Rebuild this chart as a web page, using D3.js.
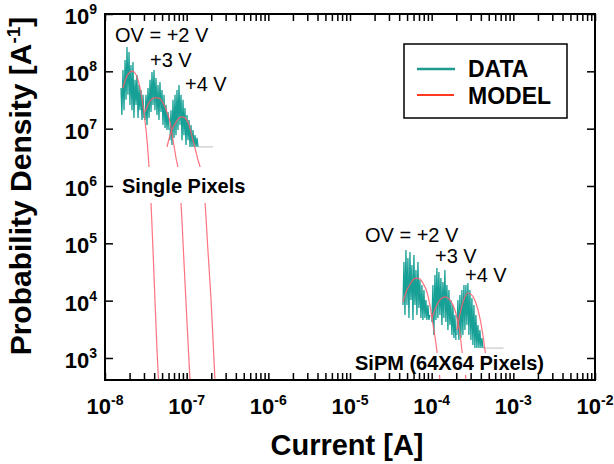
<!DOCTYPE html>
<meta charset="utf-8">
<script src="https://cdn.jsdelivr.net/npm/d3@7"></script>
<style>
  body { margin: 0; background: #fff; }
  text { font-family: "Liberation Sans", Arial, sans-serif; }
</style>

<div id="wrapper"></div>

<script>
  // ---- tick labels (exponents of ten) ----
  const xTickExp = [-8, -7, -6, -5, -4, -3, -2];
  const yTickExp = [3, 4, 5, 6, 7, 8, 9];
  const xDomain = [1e-8, 1e-2];
  const yDomain = [4.13e2, 1e9];

  // ---- single pixels, measured histograms [current A, density A^-1] ----
  const spData2V = [
    [1.57e-8, 5.1e7], [1.61e-8, 1.73e7], [1.66e-8, 1.05e8], [1.71e-8, 2.1e7], [1.76e-8, 1.58e8],
    [1.81e-8, 3.2e7], [1.86e-8, 2.65e8], [1.91e-8, 3.9e7], [1.97e-8, 2.17e8], [2.02e-8, 2.6e7],
    [2.08e-8, 1.29e8], [2.14e-8, 2.1e7], [2.20e-8, 1.46e8], [2.26e-8, 1.53e7], [2.33e-8, 7.1e7],
    [2.40e-8, 2.6e7], [2.46e-8, 8.6e7], [2.54e-8, 1.53e7], [2.61e-8, 5.8e7], [2.68e-8, 2.1e7],
    [2.76e-8, 4.7e7], [2.84e-8, 1.42e7], [2.92e-8, 3.9e7], [3.00e-8, 1.53e7]
  ];
  const spData3V = [
    [3.09e-8, 1.42e7], [3.18e-8, 3.9e7], [3.27e-8, 1.16e7], [3.36e-8, 5.1e7], [3.46e-8, 1.53e7],
    [3.56e-8, 7.1e7], [3.66e-8, 1.95e7], [3.76e-8, 9.7e7], [3.87e-8, 2.6e7], [3.98e-8, 1.05e8],
    [4.09e-8, 2.1e7], [4.21e-8, 7.65e7], [4.33e-8, 1.73e7], [4.46e-8, 5.8e7], [4.58e-8, 1.42e7],
    [4.71e-8, 6.5e7], [4.85e-8, 1.95e7], [4.99e-8, 4.7e7], [5.13e-8, 1.16e7], [5.28e-8, 3.9e7],
    [5.43e-8, 1.03e7], [5.58e-8, 2.6e7], [5.74e-8, 9.5e6], [5.91e-8, 1.95e7], [6.08e-8, 9.5e6]
  ];
  const spData4V = [
    [6.25e-8, 6.3e6], [6.43e-8, 2.1e7], [6.61e-8, 5.2e6], [6.80e-8, 3.2e7], [7.00e-8, 6.9e6],
    [7.20e-8, 3.9e7], [7.40e-8, 7.7e6], [7.61e-8, 4.7e7], [7.83e-8, 9.5e6], [8.05e-8, 5.8e7],
    [8.28e-8, 1.16e7], [8.52e-8, 3.9e7], [8.77e-8, 6.3e6], [9.02e-8, 3.2e7], [9.27e-8, 7.7e6],
    [9.54e-8, 2.29e7], [9.81e-8, 5.2e6], [1.009e-7, 1.73e7], [1.038e-7, 6.3e6], [1.068e-7, 1.42e7],
    [1.098e-7, 4.8e6], [1.130e-7, 1.16e7], [1.162e-7, 4.8e6], [1.195e-7, 9.5e6], [1.230e-7, 4.8e6],
    [1.265e-7, 7.7e6], [1.301e-7, 4.8e6], [1.338e-7, 6.9e6], [1.376e-7, 4.8e6]
  ];
  const spTail = [[1.376e-7, 4.8e6], [2.10e-7, 4.8e6]];

  // ---- single pixels, model curves ----
  const spModel2V = [
    [1.66e-8, 5.1e7], [1.81e-8, 7.65e7], [1.97e-8, 9.35e7], [2.14e-8, 1.01e8], [2.33e-8, 9.35e7],
    [2.54e-8, 7.1e7], [2.76e-8, 4.19e7], [3.00e-8, 1.88e7], [3.27e-8, 6.3e6], [3.46e-8, 2.14e6],
    [3.66e-8, 5.05e5], [3.87e-8, 7.66e4], [4.09e-8, 1.03e4], [4.33e-8, 1.38e3], [4.65e-8, 1.85e2]
  ];
  const spModel3V = [
    [3.09e-8, 1.95e7], [3.36e-8, 2.6e7], [3.66e-8, 3.2e7], [4.09e-8, 3.43e7], [4.46e-8, 3.43e7],
    [4.85e-8, 3.2e7], [5.28e-8, 2.6e7], [5.74e-8, 1.95e7], [6.25e-8, 1.31e7], [6.61e-8, 8.07e6],
    [7.00e-8, 4.99e6], [7.40e-8, 3.08e6], [7.83e-8, 2.06e6], [8.52e-8, 5.05e5], [9.27e-8, 4.72e4],
    [1.009e-7, 4.25e3], [1.098e-7, 4.13e2], [1.13e-7, 1.85e2]
  ];
  const spModel4V = [
    [5.74e-8, 4.79e6], [6.43e-8, 8.75e6], [7.20e-8, 1.21e7], [8.05e-8, 1.53e7], [8.77e-8, 1.60e7],
    [9.54e-8, 1.53e7], [1.068e-7, 1.16e7], [1.195e-7, 6.3e6], [1.301e-7, 3.92e6], [1.376e-7, 2.84e6],
    [1.46e-7, 2.14e6], [1.68e-7, 5.05e5], [1.82e-7, 7.66e4], [1.99e-7, 1.03e4], [2.22e-7, 4.13e2],
    [2.29e-7, 1.85e2]
  ];

  // ---- SiPM (64x64), measured histograms ----
  const arrData2V = [
    [4.45e-5, 8.39e3], [4.58e-5, 4.72e4], [4.71e-5, 5.62e3], [4.84e-5, 7.66e4], [4.98e-5, 8.39e3],
    [5.12e-5, 5.55e4], [5.27e-5, 4.98e3], [5.42e-5, 7.06e4], [5.57e-5, 1.03e4], [5.73e-5, 4.19e4],
    [5.90e-5, 4.60e3], [6.06e-5, 6.26e4], [6.24e-5, 8.39e3], [6.42e-5, 3.43e4], [6.60e-5, 5.62e3],
    [6.79e-5, 4.72e4], [6.98e-5, 7.44e3], [7.18e-5, 2.29e4], [7.39e-5, 4.98e3], [7.60e-5, 1.88e4],
    [7.81e-5, 4.60e3], [8.04e-5, 1.53e4], [8.27e-5, 4.98e3], [8.50e-5, 1.03e4], [8.75e-5, 4.60e3],
    [9.00e-5, 8.39e3], [9.25e-5, 4.60e3], [9.52e-5, 5.62e3]
  ];
  const arrData3V = [
    [1.007e-4, 4.24e3], [1.036e-4, 1.88e4], [1.065e-4, 2.52e3], [1.096e-4, 2.80e4], [1.127e-4, 4.60e3],
    [1.159e-4, 3.71e4], [1.192e-4, 4.98e3], [1.226e-4, 3.16e4], [1.262e-4, 5.62e3], [1.298e-4, 2.48e4],
    [1.335e-4, 3.76e3], [1.373e-4, 2.11e4], [1.412e-4, 4.98e3], [1.452e-4, 3.43e4], [1.494e-4, 4.24e3],
    [1.537e-4, 1.88e4], [1.581e-4, 3.08e3], [1.626e-4, 1.53e4], [1.672e-4, 3.76e3], [1.720e-4, 1.03e4],
    [1.769e-4, 2.52e3], [1.820e-4, 8.39e3], [1.872e-4, 2.23e3], [1.926e-4, 5.62e3], [1.981e-4, 2.06e3]
  ];
  const arrData4V = [
    [2.037e-4, 2.52e3], [2.096e-4, 1.03e4], [2.156e-4, 2.06e3], [2.217e-4, 1.25e4], [2.281e-4, 2.23e3],
    [2.346e-4, 1.53e4], [2.413e-4, 2.52e3], [2.482e-4, 1.88e4], [2.553e-4, 3.08e3], [2.626e-4, 1.88e4],
    [2.701e-4, 3.76e3], [2.778e-4, 2.03e4], [2.858e-4, 2.52e3], [2.939e-4, 1.53e4], [3.023e-4, 2.06e3],
    [3.110e-4, 1.11e4], [3.199e-4, 1.68e3], [3.290e-4, 8.39e3], [3.385e-4, 1.49e3], [3.481e-4, 5.62e3],
    [3.581e-4, 1.49e3], [3.683e-4, 3.76e3], [3.789e-4, 1.49e3], [3.897e-4, 3.08e3], [4.009e-4, 1.49e3],
    [4.123e-4, 2.23e3], [4.241e-4, 1.49e3]
  ];
  const arrTail = [[4.241e-4, 1.49e3], [7.6e-4, 1.49e3]];

  // ---- SiPM (64x64), model curves ----
  const arrModel2V = [
    [4.45e-5, 9.46e3], [4.98e-5, 1.53e4], [5.57e-5, 2.03e4], [6.06e-5, 2.39e4], [6.60e-5, 2.48e4],
    [7.18e-5, 2.39e4], [7.81e-5, 2.03e4], [8.75e-5, 1.42e4], [9.52e-5, 8.39e3], [1.007e-4, 4.98e3],
    [1.065e-4, 3.08e3], [1.127e-4, 1.82e3], [1.192e-4, 9.2e2], [1.262e-4, 4.13e2], [1.298e-4, 1.85e2]
  ];
  const arrModel3V = [
    [1.007e-4, 4.98e3], [1.127e-4, 7.75e3], [1.262e-4, 1.03e4], [1.452e-4, 1.16e4], [1.672e-4, 1.03e4],
    [1.926e-4, 6.87e3], [2.096e-4, 4.24e3], [2.217e-4, 2.73e3], [2.346e-4, 1.38e3], [2.482e-4, 7.55e2],
    [2.626e-4, 4.13e2], [2.701e-4, 1.85e2]
  ];
  const arrModel4V = [
    [2.037e-4, 3.08e3], [2.281e-4, 6.87e3], [2.553e-4, 1.16e4], [2.778e-4, 1.36e4], [3.110e-4, 1.25e4],
    [3.481e-4, 9.1e3], [3.897e-4, 4.98e3], [4.241e-4, 2.52e3], [4.487e-4, 1.38e3], [4.884e-4, 6.69e2],
    [5.17e-4, 4.13e2], [5.32e-4, 1.85e2]
  ];

  const teal = "#17a096";
  const red = "#ff5a6a";

  // Margin and size
  const margin = { top: 14, right: 19, bottom: 84, left: 105 },
    width = 614 - margin.left - margin.right,
    height = 464 - margin.top - margin.bottom;

  const svg = d3.select("#wrapper")
    .append("svg")
    .attr("width", 614)
    .attr("height", 464)
    .append("g")
    .attr("transform", `translate(${margin.left},${margin.top})`);

  const x = d3.scaleLog().domain(xDomain).range([0, width]);
  const y = d3.scaleLog().domain(yDomain).range([height, 0]);

  svg.append("clipPath").attr("id", "clip")
    .append("rect").attr("width", width).attr("height", height);

  const line = d3.line().x(d => x(d[0])).y(d => y(d[1]));
  const plot = svg.append("g").attr("clip-path", "url(#clip)");

  // grey tails of the histograms
  plot.selectAll(".tail")
    .data([spTail, arrTail])
    .join("path")
    .attr("d", line)
    .attr("fill", "none")
    .attr("stroke", "#c8c8c8")
    .attr("stroke-width", 1.2);

  // measured data
  plot.selectAll(".data")
    .data([spData2V, spData3V, spData4V, arrData2V, arrData3V, arrData4V])
    .join("path")
    .attr("class", "data")
    .attr("d", line)
    .attr("fill", "none")
    .attr("stroke", teal)
    .attr("stroke-width", 1.3);

  // model curves
  plot.selectAll(".model")
    .data([spModel2V, spModel3V, spModel4V, arrModel2V, arrModel3V, arrModel4V])
    .join("path")
    .attr("class", "model")
    .attr("d", d3.line().curve(d3.curveMonotoneX).x(d => x(d[0])).y(d => y(d[1])))
    .attr("fill", "none")
    .attr("stroke", red)
    .attr("stroke-width", 1.2)
    .attr("stroke-opacity", 0.85);

  // white patches behind the group labels
  svg.append("rect").attr("x", 13).attr("y", 153).attr("width", 132).attr("height", 36).attr("fill", "#fff");
  svg.append("rect").attr("x", 247).attr("y", 339).attr("width", 198).attr("height", 22).attr("fill", "#fff");

  // frame
  svg.append("rect")
    .attr("width", width).attr("height", height)
    .attr("fill", "none").attr("stroke", "#000").attr("stroke-width", 2);

  // x ticks (inward, bottom and top)
  const minor = x.ticks();
  svg.append("g")
    .attr("transform", `translate(0,${height})`)
    .call(d3.axisBottom(x).tickValues(minor).tickSize(-7).tickFormat(""))
    .call(g => g.select(".domain").remove())
    .call(g => g.selectAll("line").attr("stroke-width", 1.5));
  svg.append("g")
    .call(d3.axisTop(x).tickValues(minor).tickSize(-7).tickFormat(""))
    .call(g => g.select(".domain").remove())
    .call(g => g.selectAll("line").attr("stroke-width", 1.5));

  // y ticks (inward, left and right)
  const yVals = yTickExp.map(e => Math.pow(10, e));
  svg.append("g")
    .call(d3.axisLeft(y).tickValues(yVals).tickSize(-8).tickFormat(""))
    .call(g => g.select(".domain").remove())
    .call(g => g.selectAll("line").attr("stroke-width", 1.5));
  svg.append("g")
    .attr("transform", `translate(${width},0)`)
    .call(d3.axisRight(y).tickValues(yVals).tickSize(-8).tickFormat(""))
    .call(g => g.select(".domain").remove())
    .call(g => g.selectAll("line").attr("stroke-width", 1.5));

  // x tick labels
  const xl = svg.append("g").selectAll("text")
    .data(xTickExp)
    .join("text")
    .attr("x", d => x(Math.pow(10, d)))
    .attr("y", height + 34)
    .attr("text-anchor", "middle")
    .attr("font-size", 22)
    .attr("font-weight", "bold");
  xl.append("tspan").text("10");
  xl.append("tspan").attr("font-size", 14).attr("dy", -9).text(d => d);

  // y tick labels
  const yl = svg.append("g").selectAll("text")
    .data(yTickExp)
    .join("text")
    .attr("x", -8)
    .attr("y", d => y(Math.pow(10, d)) + 10)
    .attr("text-anchor", "end")
    .attr("font-size", 22)
    .attr("font-weight", "bold");
  yl.append("tspan").text("10");
  yl.append("tspan").attr("font-size", 14).attr("dy", -10).text(d => d);

  // axis titles
  svg.append("text")
    .attr("x", width / 2 - 3)
    .attr("y", height + 75)
    .attr("text-anchor", "middle")
    .attr("font-size", 29)
    .attr("font-weight", "bold")
    .text("Current [A]");

  const yt = svg.append("text")
    .attr("transform", `translate(${31 - margin.left},${186 - margin.top}) rotate(-90)`)
    .attr("text-anchor", "middle")
    .attr("font-size", 30)
    .attr("font-weight", "bold");
  yt.append("tspan").text("Probability Density [A");
  yt.append("tspan").attr("font-size", 19).attr("dy", -11).text("-1");
  yt.append("tspan").attr("dy", 11).text("]");

  // annotations
  const notes = [
    { t: "OV = +2 V", x: 10, y: 28 },
    { t: "+3 V", x: 45, y: 53 },
    { t: "+4 V", x: 80, y: 77 },
    { t: "OV = +2 V", x: 260, y: 228 },
    { t: "+3 V", x: 330, y: 249 },
    { t: "+4 V", x: 360, y: 268 }
  ];
  svg.append("g").selectAll("text")
    .data(notes)
    .join("text")
    .attr("x", d => d.x)
    .attr("y", d => d.y)
    .attr("font-size", 20)
    .text(d => d.t);

  svg.append("text").attr("x", 17).attr("y", 179)
    .attr("font-size", 20).attr("font-weight", "bold").text("Single Pixels");
  svg.append("text").attr("x", 250).attr("y", 356)
    .attr("font-size", 20).attr("font-weight", "bold").text("SiPM (64X64 Pixels)");

  // legend
  const lg = svg.append("g").attr("transform", `translate(${404 - margin.left},${44 - margin.top})`);
  lg.append("rect").attr("width", 163).attr("height", 74)
    .attr("fill", "#fff").attr("stroke", "#000").attr("stroke-width", 1.5);
  lg.append("line").attr("x1", 13).attr("x2", 51).attr("y1", 25).attr("y2", 25)
    .attr("stroke", "#1f9a90").attr("stroke-width", 2.5);
  lg.append("line").attr("x1", 13).attr("x2", 50).attr("y1", 51).attr("y2", 51)
    .attr("stroke", "#ff3a1f").attr("stroke-width", 2);
  lg.append("text").attr("x", 64).attr("y", 33)
    .attr("font-size", 23).attr("font-weight", "bold").text("DATA");
  lg.append("text").attr("x", 64).attr("y", 60)
    .attr("font-size", 23).attr("font-weight", "bold").text("MODEL");
</script>
